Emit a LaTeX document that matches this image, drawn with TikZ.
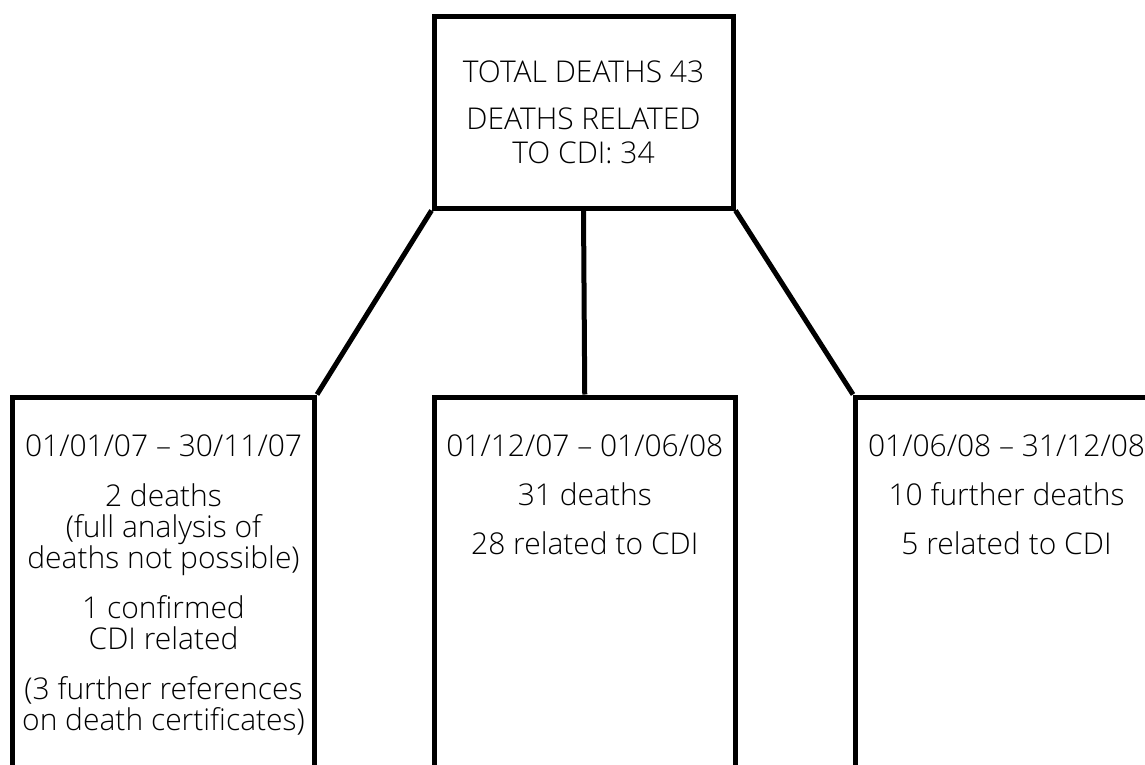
\documentclass[tikz,border=0pt]{standalone}
\usepackage{fontspec}
\setmainfont{Open Sans}[UprightFont=* Light]
\usetikzlibrary{positioning,calc}

\tikzset{
  box/.style={draw, line width=2.5pt, inner sep=0pt, minimum width=151pt, minimum height=212.75pt, anchor=north},
  info/.style={align=center, inner sep=0pt, font=\fontsize{15}{15.5}\selectfont},
  link/.style={line width=2.5pt}
}

\begin{document}
\begin{tikzpicture}[x=0.5pt, y=-0.5pt]
    % Frame
    \useasboundingbox (0,0) rectangle (1145,765);
    \clip (0,0) rectangle (1145,765);

    % Total
    \node[draw, line width=2.5pt, minimum width=149.5pt, minimum height=95.5pt, info, font=\fontsize{15}{17}\selectfont] (total) at (583.5,112.5)
        {TOTAL DEATHS 43\\[6.5pt] DEATHS RELATED\\ TO CDI: 34};

    % Periods
    \node[box] (first) at (163.5,394.5) {};
    \node[box, minimum width=150.25pt] (second) at (584.75,394.5) {};
    \node[box] (third) at (1006.5,394.5) {};

    \node[info, below=20pt of first.north] (firsttxt)
        {01/01/07 -- 30/11/07\\[9.5pt] 2 deaths\\ (full analysis of\\ deaths not possible)\\[9.5pt]
         1 confirmed\\ CDI related\\[9.5pt] (3 further references\\ on death certificates)};
    \node[info, below=20pt of second.north] (secondtxt)
        {01/12/07 -- 01/06/08\\[9pt] 31 deaths\\[9pt] 28 related to CDI};
    \node[info, below=20pt of third.north] (thirdtxt)
        {01/06/08 -- 31/12/08\\[9pt] 10 further deaths\\[9pt] 5 related to CDI};

    % Links
    \draw[link] (total.south west) -- (first.north east);
    \draw[link] (total.south) -- (second.north);
    \draw[link] (total.south east) -- (third.north west);
\end{tikzpicture}
\end{document}
